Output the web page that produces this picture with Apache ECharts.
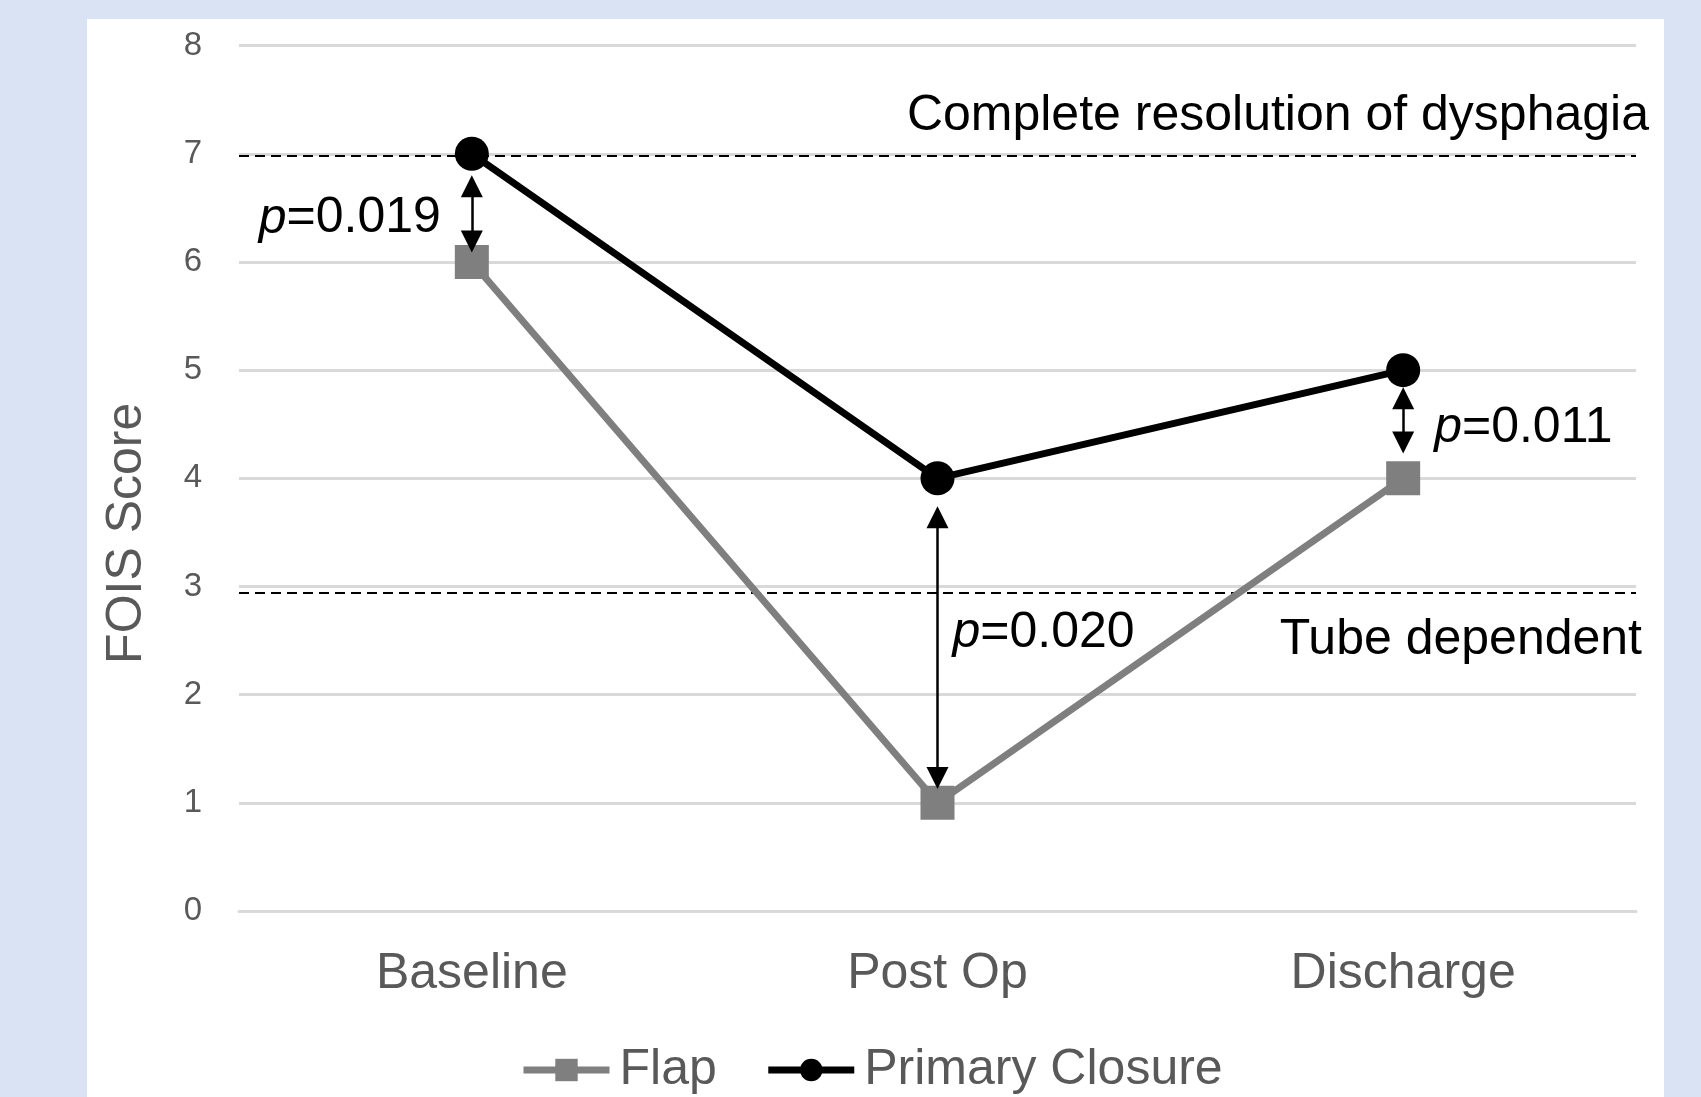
<!DOCTYPE html>
<html>
<head>
<meta charset="utf-8">
<script src="https://cdn.jsdelivr.net/npm/echarts@6/dist/echarts.min.js"></script>
<style>
html,body{margin:0;padding:0;background:#dae3f3;}
#chart{width:1701px;height:1097px;}
</style>
</head>
<body>
<div id="chart"></div>
<script>
// ---- data ----
const categories = ['Baseline', 'Post Op', 'Discharge'];
const flapValues = [6, 1, 4];
const primaryValues = [7, 4, 5];
const yMin = 0, yMax = 8, yInterval = 1;
const thresholdValues = [6.98, 2.94];
const thresholdLabels = ['Complete resolution of dysphagia', 'Tube dependent'];
const pCategories = ['Baseline', 'Post Op', 'Discharge'];
const pArrowTop = [6.70, 3.64, 4.74];
const pArrowBottom = [6.19, 1.23, 4.33];
const pValues = ['0.019', '0.020', '0.011'];
const pLabelY = [6.40, 2.57, 4.46];

const FONT = "'Liberation Sans', Arial, Helvetica, sans-serif";
const chart = echarts.init(document.getElementById('chart'));

const pLabelPos = ['left', 'right', 'right'];
const pLabelDist = [31, 15, 31];

const option = {
  backgroundColor: '#dae3f3',
  animation: false,
  textStyle: { fontFamily: FONT },
  graphic: [{
    type: 'rect', z: -100, silent: true,
    shape: { x: 87, y: 19, width: 1577, height: 1100 },
    style: { fill: '#ffffff' }
  }],
  grid: { left: 239, right: 65, top: 45.6, bottom: 186 },
  legend: {
    data: ['Flap', 'Primary Closure'],
    left: 515, top: 1040,
    itemWidth: 86, itemHeight: 28, itemGap: 48,
    lineStyle: { width: 7 },
    textStyle: { fontSize: 50, color: '#595959', fontFamily: FONT, padding: [0, 0, 0, 5] }
  },
  xAxis: {
    type: 'category', data: categories, boundaryGap: true,
    axisLine: { show: true, lineStyle: { color: '#d9d9d9', width: 3 } },
    axisTick: { show: false },
    axisLabel: { fontSize: 50, color: '#595959', margin: 38, fontFamily: FONT }
  },
  yAxis: {
    type: 'value', min: yMin, max: yMax, interval: yInterval,
    name: 'FOIS Score', nameLocation: 'middle', nameGap: 87,
    nameTextStyle: { fontSize: 50, color: '#595959', fontFamily: FONT, padding: [0, 110, 0, 0] },
    axisLine: { show: false }, axisTick: { show: false },
    splitLine: { lineStyle: { color: '#d9d9d9', width: 3 } },
    axisLabel: { fontSize: 33, color: '#595959', margin: 37, fontFamily: FONT }
  },
  series: [
    {
      name: 'Flap', type: 'line', data: flapValues, z: 3,
      symbol: 'rect', symbolSize: 34,
      itemStyle: { color: '#7f7f7f' },
      lineStyle: { color: '#7f7f7f', width: 7 },
      markLine: {
        silent: true, symbol: 'none', z: 2,
        lineStyle: { color: '#000', width: 2, type: [10, 6] },
        data: thresholdValues.map((v, i) => ({
          yAxis: v,
          label: {
            show: true, formatter: thresholdLabels[i],
            position: i === 0 ? 'insideEndTop' : 'insideEndBottom',
            distance: i === 0 ? 15 : 22,
            offset: [28, 0],
            fontSize: 50, color: '#000', fontFamily: FONT
          }
        }))
      }
    },
    {
      name: 'Primary Closure', type: 'line', data: primaryValues, z: 4,
      symbol: 'circle', symbolSize: 34,
      itemStyle: { color: '#000' },
      lineStyle: { color: '#000', width: 7 },
      markLine: {
        silent: true, symbol: ['triangle', 'triangle'], symbolSize: [22, 22],
        lineStyle: { color: '#000', width: 2.5, type: 'solid' },
        label: { show: false },
        data: pCategories.map((c, i) => [
          { coord: [c, pArrowTop[i]] },
          { coord: [c, pArrowBottom[i]] }
        ])
      },
      markPoint: {
        silent: true, symbol: 'circle', symbolSize: 0,
        itemStyle: { color: 'transparent' },
        data: pCategories.map((c, i) => ({
          coord: [c, pLabelY[i]],
          label: {
            show: true, position: pLabelPos[i], distance: pLabelDist[i],
            formatter: '{i|p}=' + pValues[i],
            fontSize: 50, color: '#000', fontFamily: FONT,
            rich: { i: { fontStyle: 'italic', fontSize: 50, color: '#000', fontFamily: FONT } }
          }
        }))
      }
    }
  ]
};
chart.setOption(option);
</script>
</body>
</html>
